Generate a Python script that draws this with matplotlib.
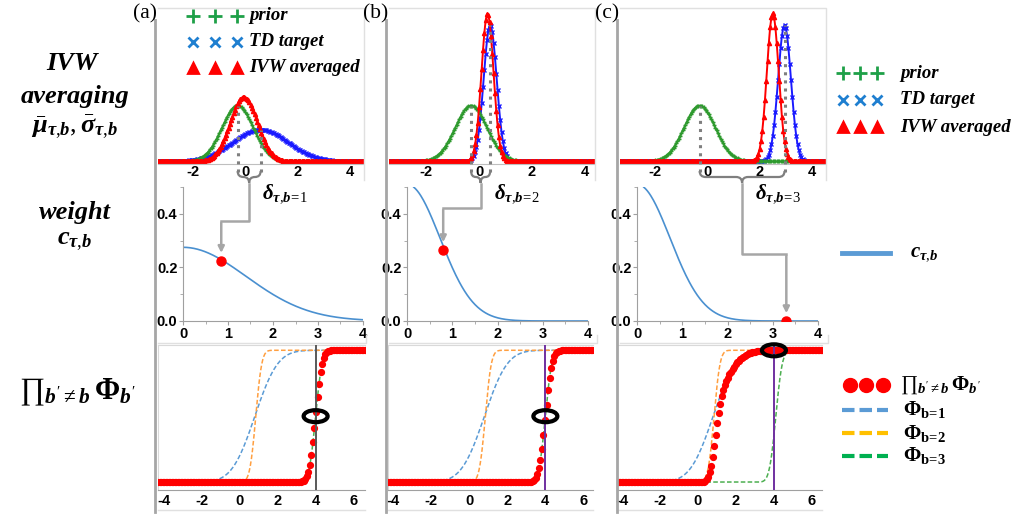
import math
import numpy as np
import matplotlib
matplotlib.use('Agg')
import matplotlib.pyplot as plt
from matplotlib.patches import Ellipse, PathPatch, FancyArrowPatch
from matplotlib.path import Path

plt.rcParams['mathtext.fontset'] = 'custom'
plt.rcParams['mathtext.it'] = 'Liberation Serif:italic:bold'
plt.rcParams['mathtext.bf'] = 'Liberation Serif:bold'
plt.rcParams['mathtext.rm'] = 'Liberation Serif'
plt.rcParams['mathtext.fallback'] = 'stix'
plt.rcParams['axes.unicode_minus'] = False

W, H = 1026, 514

panel_labels = ['(a)', '(b)', '(c)']

# top row: gaussians (mean, std)
prior_mu = [-0.3, -0.3, -0.3]
prior_sd = [0.6, 0.6, 0.6]
td_mu = [0.58, 0.42, 2.95]
td_sd = [1.05, 0.245, 0.245]
ivw_mu = [-0.06, 0.32, 2.5]
ivw_sd = [0.52, 0.226, 0.226]

# middle row: weight c(delta), gaussian shaped
c_peak = [0.275, 0.51, 0.51]
c_sd = [1.4, 0.73, 0.73]
c_start = [0.0, 0.15, 0.15]
dot_delta = [0.85, 0.8, 3.3]
dot_c = [0.225, 0.265, 0.0]
delta_labels = [r'$\delta_{\tau{,}b\!{=}\!1}$', r'$\delta_{\tau{,}b\!{=}\!2}$', r'$\delta_{\tau{,}b\!{=}\!3}$']

# bottom row: Phi_b cdfs (mean, std) for b = 1, 2, 3
phi_mu = [[0.8, 0.85, 4.0], [0.8, 0.85, 4.0], [0.8, 0.85, 4.1]]
phi_sd = [[0.95, 0.25, 0.27], [0.95, 0.25, 0.27], [0.95, 0.25, 0.27]]
x_eval = 4.0
vline_colors = ['#595959', '#7030a0', '#7030a0']

# layout (pixels)
top_box = [(158, 363, -3.35, 4.5), (389, 594, -3.4, 4.34), (620, 825, -3.35, 4.5)]
mid_box = [(183, 363), (407, 588), (637, 818)]
bot_box = [(158, 365, -4.3, 6.6), (388, 593, -4.26, 6.5), (617, 822, -4.26, 6.53)]
turn_y = [221, 208, 254]

green = '#2e9a2e'
blue = '#1a1aff'
red = '#ff0000'
c_col = '#4a90d0'
phi_cols = ['#5b9bd5', '#ff9f40', '#4caf50']
gray = '#a6a6a6'

tickfont = dict(family='Liberation Sans', weight='bold', size=10.5)
serif_bi = dict(family='Liberation Serif', weight='bold', style='italic')
prod_label = r"${\prod}_{b'{\neq}b}\,\mathbf{\Phi}_{b'}$"
ctb_label = r'$c_{\tau{,}b}$'


def npdf(x, m, s):
    return np.exp(-0.5 * ((x - m) / s) ** 2) / (s * math.sqrt(2 * math.pi))


def ncdf(x, m, s):
    return 0.5 * (1 + np.vectorize(math.erf)((x - m) / (s * math.sqrt(2))))


def add_ax(l, r, t, b):
    return fig.add_axes([l / W, 1 - b / H, (r - l) / W, (b - t) / H])


def style_ticks(ax):
    for lab in ax.get_xticklabels() + ax.get_yticklabels():
        lab.set_fontfamily(tickfont['family'])
        lab.set_fontweight(tickfont['weight'])
        lab.set_fontsize(tickfont['size'])


fig = plt.figure(figsize=(W / 100, H / 100), dpi=100)

ov = fig.add_axes([0, 0, 1, 1], zorder=20)
ov.set_xlim(0, W)
ov.set_ylim(H, 0)
ov.axis('off')
ov.patch.set_alpha(0)


def to_px(ax, x, y):
    p = ax.transData.transform((x, y))
    return p[0], H - p[1]


def brace(x1, x2, y0, h):
    xm = (x1 + x2) / 2
    q = min(6, (x2 - x1) / 4)
    verts = [(x1, y0), (x1, y0 + h / 2), (x1 + q, y0 + h / 2),
             (xm - q, y0 + h / 2), (xm, y0 + h / 2), (xm, y0 + h),
             (xm, y0 + h / 2), (xm + q, y0 + h / 2),
             (x2 - q, y0 + h / 2), (x2, y0 + h / 2), (x2, y0)]
    codes = [Path.MOVETO, Path.CURVE3, Path.CURVE3, Path.LINETO, Path.CURVE3, Path.CURVE3,
             Path.CURVE3, Path.CURVE3, Path.LINETO, Path.CURVE3, Path.CURVE3]
    ov.add_patch(PathPatch(Path(verts, codes), fill=False, edgecolor='#7f7f7f', lw=1.6))


for i in range(3):
    # ---- top row
    l, r, x0, x1 = top_box[i]
    ax = add_ax(l, r, 8, 164)
    xs = np.arange(x0, x1 + 0.05, 0.05)
    ax.plot(xs, npdf(xs, td_mu[i], td_sd[i]), color=blue, marker='x', ms=3, lw=1.4)
    ax.plot(xs, npdf(xs, prior_mu[i], prior_sd[i]), color=green, marker='+', ms=3, lw=1.4)
    ax.plot(xs, npdf(xs, ivw_mu[i], ivw_sd[i]), color=red, marker='^', ms=3, lw=1.4)
    ax.set_xlim(x0, x1)
    ax.set_ylim(-0.03, 1.83)
    ax.set_xticks([-2, 0, 2, 4])
    ax.set_yticks([])
    for s in ['top', 'right', 'left']:
        ax.spines[s].set_visible(False)
    ax.spines['bottom'].set_color('#bfbfbf')
    ax.tick_params(axis='x', length=0, pad=1)
    style_ticks(ax)
    for m, s in [(prior_mu[i], prior_sd[i]), (td_mu[i], td_sd[i])]:
        ax.plot([m, m], [-0.125, npdf(m, m, s)], color='#7f7f7f', ls=':', lw=2.2,
                clip_on=False, zorder=5)
    pa = to_px(ax, prior_mu[i], 0)[0]
    pb = to_px(ax, td_mu[i], 0)[0]
    brace(pa, pb, 171, 12)
    tip_x = (pa + pb) / 2
    ov.text(tip_x + 13, 194, delta_labels[i], fontsize=15, ha='left', va='center')
    # light frame of the sub-image
    ov.plot([l, r + 1, r + 1], [8, 8, 180], color='#e0e0e0', lw=1)

    # ---- middle row
    ml, mr = mid_box[i]
    axm = add_ax(ml, mr, 187, 321)
    xc = np.linspace(c_start[i], 4, 200)
    axm.plot(xc, c_peak[i] * np.exp(-0.5 * (xc / c_sd[i]) ** 2), color=c_col, lw=1.2)
    axm.plot([dot_delta[i]], [dot_c[i]], 'o', color=red, ms=6.5, zorder=6)
    axm.set_xlim(0, 4)
    axm.set_ylim(0, 0.5)
    axm.set_xticks([0, 1, 2, 3, 4])
    axm.set_xticks(np.arange(0.5, 4, 1), minor=True)
    axm.set_yticks([0, 0.2, 0.4])
    axm.set_yticklabels(['0.0', '0.2', '0.4'])
    axm.set_yticks([0.1, 0.3, 0.5], minor=True)
    for s in ['top', 'right']:
        axm.spines[s].set_visible(False)
    for s in ['left', 'bottom']:
        axm.spines[s].set_color('#a0a0a0')
    axm.tick_params(length=3, color='#a0a0a0', pad=1)
    axm.tick_params(which='minor', length=2, color='#a0a0a0')
    style_ticks(axm)
    dx, dy = to_px(axm, dot_delta[i], dot_c[i])
    ov.plot([tip_x, tip_x, dx], [184, turn_y[i], turn_y[i]], color=gray, lw=1.8)
    ov.add_patch(FancyArrowPatch((dx, turn_y[i] - 1), (dx, dy - 5), arrowstyle='-|>',
                                 mutation_scale=9, color=gray, lw=1.8))
    ov.plot([l, r + 3, r + 3], [343, 343, 335], color='#e0e0e0', lw=1)

    # ---- bottom row
    bl, br, bx0, bx1 = bot_box[i]
    axb = add_ax(bl, br, 345, 490)
    xb = np.linspace(bx0, bx1, 400)
    for k in range(3):
        axb.plot(xb, ncdf(xb, phi_mu[i][k], phi_sd[i][k]), color=phi_cols[k],
                 ls='--', dashes=(3, 1.5), lw=1.1)
    xd = np.arange(bx0, bx1 + 0.08, 0.08)
    prod = np.ones_like(xd)
    p_eval = 1.0
    for k in range(3):
        if k != i:
            prod = prod * ncdf(xd, phi_mu[i][k], phi_sd[i][k])
            p_eval = p_eval * float(ncdf(np.array([x_eval]), phi_mu[i][k], phi_sd[i][k])[0])
    axb.plot(xd, prod, 'o', color=red, ms=4.2, zorder=4)
    axb.axvline(x_eval, color=vline_colors[i], lw=1.4, zorder=5)
    axb.set_xlim(bx0, bx1)
    axb.set_ylim(-0.06, 1.04)
    axb.set_xticks([-4, -2, 0, 2, 4, 6])
    axb.set_yticks([])
    axb.spines['right'].set_visible(False)
    axb.spines['top'].set_color('#d9d9d9')
    axb.spines['left'].set_color('#d9d9d9')
    axb.spines['bottom'].set_color('#a0a0a0')
    axb.tick_params(axis='x', length=0, pad=3)
    style_ticks(axb)
    ex, ey = to_px(axb, x_eval, p_eval)
    ov.add_patch(Ellipse((ex, ey), 24, 12, fill=False, edgecolor='black', lw=3, zorder=8))
    ov.plot([bl, br], [510, 510], color='#e0e0e0', lw=1)

    # separators and panel labels
    ov.plot([l - 3, l - 3], [20, 512], color=gray, lw=2)
    ov.text(l - 13, 14, panel_labels[i], fontfamily='Liberation Serif', fontsize=15.5,
            ha='center', va='center')

# legend inside panel (a) and top right legend
leg_names = ['prior', 'TD target', 'IVW averaged']
leg_marks = [('+', '#1ea048', 10), ('x', '#1f7fd0', 7.5), ('^', red, 7.5)]
for j, (name, (mk, col, ms)) in enumerate(zip(leg_names, leg_marks)):
    y = 16 + 26 * j
    ov.plot([193, 215, 237], [y] * 3, mk, color=col, ms=ms, mew=2, ls='none')
    ov.text(249, y, name, fontsize=13.5, ha='left', va='center', **serif_bi)
    y2 = 73 + 27 * j
    ov.plot([843, 860, 877], [y2] * 3, mk, color=col, ms=ms, mew=2, ls='none')
    ov.text(900, y2, name, fontsize=13.5, ha='left', va='center', **serif_bi)

# right legends
ov.plot([842, 890], [253, 253], color='#5b9bd5', lw=3.5)
ov.text(910, 253, ctb_label, fontsize=15, ha='left', va='center')
ov.plot([850, 866, 883], [385] * 3, 'o', color=red, ms=10, ls='none')
ov.text(900, 385, prod_label, fontsize=15, ha='left', va='center')
phi_names = [r'$\mathbf{\Phi_{b\!{=}\!1}}$', r'$\mathbf{\Phi_{b\!{=}\!2}}$', r'$\mathbf{\Phi_{b\!{=}\!3}}$']
phi_leg = ['#5b9bd5', '#ffc000', '#00b050']
for k in range(3):
    y = 410 + 23 * k
    ov.plot([842, 888], [y, y], color=phi_leg[k], ls='--', dashes=(3, 1.2), lw=3)
    ov.text(903, y, phi_names[k], fontsize=15, ha='left', va='center')

# row labels
ov.text(72, 64, 'IVW', fontsize=19, ha='center', va='center', **serif_bi)
ov.text(75, 96, 'averaging', fontsize=19, ha='center', va='center', **serif_bi)
ov.text(75, 127, r'$\bar{\mu}_{\tau{,}b},\bar{\sigma}_{\tau{,}b}$', fontsize=19, ha='center', va='center')
ov.text(75, 213, 'weight', fontsize=19, ha='center', va='center', **serif_bi)
ov.text(75, 240, ctb_label, fontsize=19, ha='center', va='center')
ov.text(78, 392, prod_label, fontsize=22, ha='center', va='center')

fig.savefig('out.png', dpi=100)
